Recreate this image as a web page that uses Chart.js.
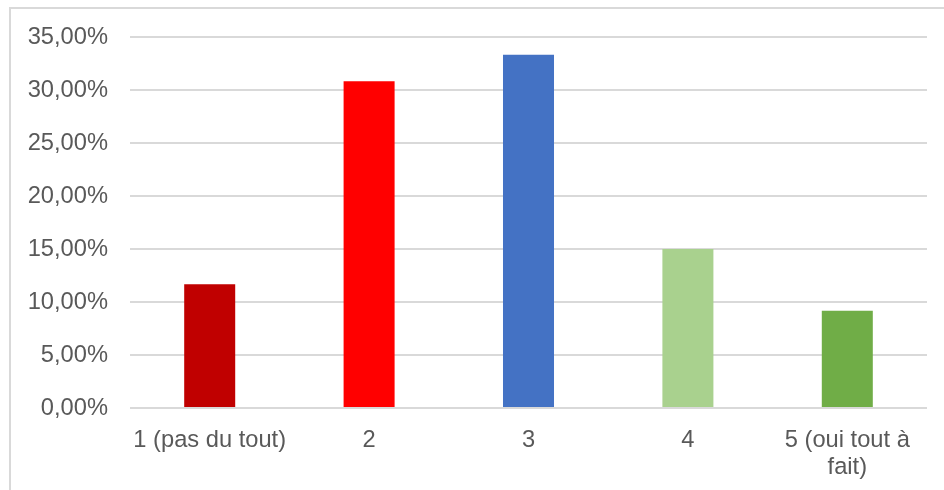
<!DOCTYPE html>
<html>
<head>
<meta charset="utf-8">
<script src="https://cdn.jsdelivr.net/npm/chart.js@4.4.1/dist/chart.umd.min.js"></script>
<style>
  html, body { margin: 0; padding: 0; background: #fff; overflow: hidden; }
  #frame {
    position: absolute; left: 9px; top: 7px;
    width: 1000px; height: 600px;
    border: 2px solid #d9d9d9;
  }
  #wrap { position: absolute; left: 0; top: 0; width: 944px; height: 490px; }
</style>
</head>
<body>
<div id="frame"></div>
<div id="wrap"><canvas id="scoreChart"></canvas></div>
<script>
// Answer scale and share of respondents (%)
const categories = ['1 (pas du tout)', '2', '3', '4', ['5 (oui tout à', 'fait)']];
const shares = [11.67, 30.83, 33.33, 15.00, 9.17];
const barColors = ['#C00000', '#FF0000', '#4472C4', '#A9D18E', '#70AD47'];
const yTicks = [0, 5, 10, 15, 20, 25, 30, 35];

document.addEventListener('DOMContentLoaded', function() {
  const ctx = document.getElementById('scoreChart').getContext('2d');
  const labelFont = { family: 'Liberation Sans, Arial, sans-serif', size: 23.7, lineHeight: 1.13 };

  new Chart(ctx, {
    type: 'bar',
    data: {
      labels: categories,
      datasets: [{
        data: shares,
        backgroundColor: barColors,
        categoryPercentage: 1,
        barPercentage: 0.32
      }]
    },
    options: {
      responsive: true,
      maintainAspectRatio: false,
      animation: false,
      plugins: {
        legend: { display: false },
        tooltip: { enabled: false }
      },
      layout: {
        padding: { top: 37, right: 17, left: 0, bottom: 0 }
      },
      scales: {
        y: {
          min: 0,
          max: 35,
          afterFit: function(scale) { scale.width = 130; },
          afterBuildTicks: function(scale) {
            scale.ticks = yTicks.map(v => ({ value: v }));
          },
          border: { display: false },
          grid: {
            color: '#d9d9d9',
            lineWidth: 2,
            drawTicks: false
          },
          ticks: {
            padding: 22,
            color: '#595959',
            font: labelFont,
            callback: v => v.toFixed(2).replace('.', ',') + '%'
          }
        },
        x: {
          afterFit: function(scale) { scale.height = 82; },
          border: { display: false },
          grid: { display: false },
          ticks: {
            padding: 11,
            color: '#595959',
            font: labelFont,
            maxRotation: 0,
            autoSkip: false
          }
        }
      }
    }
  });
});
</script>
</body>
</html>
